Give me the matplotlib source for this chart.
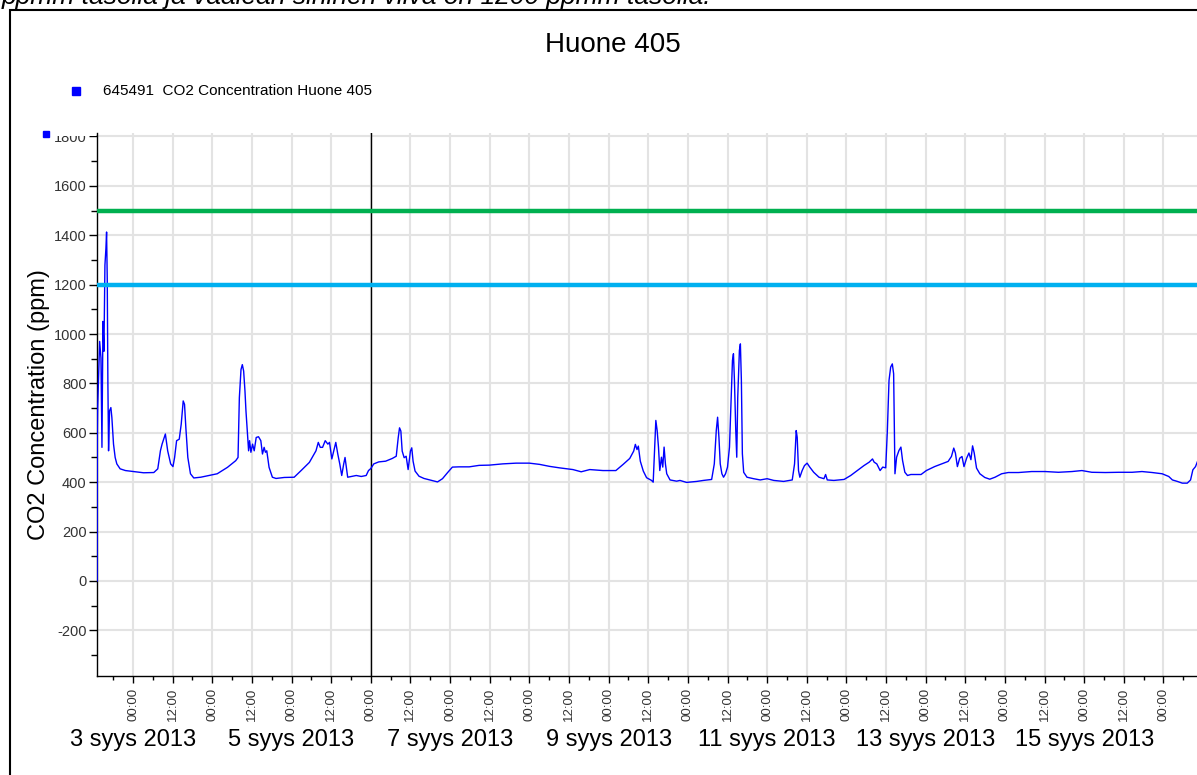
import numpy as np
import pandas as pd
import matplotlib
matplotlib.use("Agg")
import matplotlib.pyplot as plt
import matplotlib.dates as mdates
from matplotlib.lines import Line2D
from matplotlib.patches import Rectangle
from matplotlib.transforms import blended_transform_factory

plt.rcParams['font.family'] = ['Liberation Sans', 'DejaVu Sans']
plt.rcParams['axes.unicode_minus'] = False

# CO2 readings: hours from 3 Sep 2013 00:00 and ppm values
hours = [
    -10.85, -10.8, -10.7, -10.1, -9.7, -9.4, -9.1, -8.8, -8.5, -8.2, -8.0, -7.8,
    -7.6, -7.4, -7.1, -6.7, -6.4, -5.9, -5.4, -4.9, -3.9, -2.3, 0.2, 3.2, 6.3,
    7.5, 8.3, 8.8, 9.8, 10.5, 11.4, 12.1, 12.6, 13.2, 14.0, 14.6, 15.2, 15.6,
    16.0, 16.6, 17.4, 18.4, 20.5, 23.0, 25.5, 28.6, 31.1, 31.8, 32.2, 32.7,
    33.1, 33.5, 33.9, 34.2, 34.6, 35.0, 35.3, 35.7, 36.2, 36.7, 37.3, 38.0,
    38.7, 39.2, 39.7, 40.1, 40.5, 41.2, 42.2, 43.3, 45.8, 48.8, 50.9, 53.4,
    55.4, 56.1, 56.7, 57.4, 58.2, 59.0, 59.5, 60.2, 60.8, 61.4, 62.0, 62.6,
    63.2, 63.8, 64.2, 64.6, 65.0, 66.1, 67.6, 69.1, 70.6, 71.3,
    72.0, 72.9, 74.4, 76.5, 78.5, 79.7, 80.3, 80.7, 81.1, 81.5, 82.1, 82.7,
    83.3, 84.0, 84.4, 84.8, 85.4, 86.6, 88.1, 90.1, 92.2, 93.7, 95.2, 96.7,
    98.7, 101.8, 104.8, 107.9, 111.9, 116.0, 120.0, 123.1, 126.1, 129.1, 133.2,
    135.7, 138.3, 142.3, 146.2, 148.4, 150.4, 151.6, 152.1, 152.6, 153.0,
    153.6, 154.5, 155.5, 156.5,
    157.0, 157.5, 157.9, 158.3, 158.7, 159.1, 159.5, 160.0, 160.4, 160.8,
    161.2, 161.6, 162.6, 164.6, 165.6, 167.6, 170.7, 172.7, 175.2, 176.0,
    176.6, 177.0, 177.4, 177.8, 178.3, 178.8, 179.4, 180.0, 180.6, 181.1,
    181.5, 181.8, 182.1, 182.5, 182.8, 183.1, 183.6, 183.9, 184.2, 184.5,
    184.9, 185.9, 187.9, 189.9, 192.0, 194.0, 197.0, 199.6, 200.3, 200.8,
    201.1, 201.5, 201.9, 202.6, 203.3, 204.1, 204.9, 206.1, 207.7, 209.2,
    209.7, 210.2, 212.2, 215.3, 217.3, 219.3, 221.3, 222.9, 223.9, 224.4,
    225.2, 226.2, 227.0, 227.9, 228.4, 228.9, 229.4, 229.9, 230.3, 230.7,
    231.2, 231.9, 232.5, 233.0, 233.7, 234.5, 235.5, 238.6,
    240.2, 242.7, 244.8, 246.8, 247.8, 248.5, 249.0, 249.6, 250.3, 251.0,
    251.6, 252.4, 253.1, 253.7, 254.2, 254.7, 255.4, 256.4, 257.9, 259.4,
    261.0, 263.0, 265.0, 268.1, 272.1, 276.2, 280.2, 284.3, 287.3, 290.3,
    294.4, 298.5, 302.5, 305.5, 308.6, 311.6, 313.6, 314.7, 316.2, 317.7,
    319.2, 320.2, 320.9, 321.7, 322.5, 323.5,
]
co2_ppm = [
    0, 595, 702, 970, 903, 541, 1051, 930, 1279, 1346, 1413, 1225,
    796, 527, 689, 702, 662, 554, 500, 474, 454, 447, 443, 438, 439,
    454, 527, 554, 595, 527, 474, 463, 500, 568, 574, 635, 729, 715,
    621, 500, 434, 417, 420, 427, 434, 460, 487, 500, 742, 856,
    876, 850, 769, 689, 608, 527, 568, 521, 554, 527, 581, 584,
    568, 514, 541, 521, 527, 460, 420, 415, 419, 420, 447, 480,
    527, 561, 541, 541, 568, 554, 561, 494, 527, 561, 514, 474,
    427, 474, 500, 460, 420, 423, 427, 423, 427, 447,
    455, 474, 482, 485, 496, 505, 580, 620, 607, 526, 499, 505,
    451, 526, 539, 485, 445, 424, 415, 408, 401, 414, 438, 461,
    462, 462, 468, 469, 474, 477, 477, 472, 464, 458, 451,
    442, 451, 447, 447, 472, 496, 526, 553, 532, 546,
    485, 445, 418, 411,
    407, 400, 528, 650, 609, 542, 447, 501, 461, 542,
    474, 434, 409, 404, 407, 399, 403, 407, 411, 474,
    609, 663, 582, 474, 434, 420, 434, 461, 542, 744,
    893, 920, 812, 609, 501, 744, 933, 960, 812, 515,
    440, 420, 414, 409, 414, 407, 403, 409, 474, 609,
    582, 447, 420, 447, 467, 477, 461, 440, 420, 414,
    431, 409, 407, 411, 427, 447, 467, 481, 494, 481,
    474, 447, 461, 458, 609, 812, 866, 879, 839, 434,
    501, 528, 542, 488, 440, 427, 431, 431,
    447, 463, 474, 484, 504, 538, 518, 463, 497, 504,
    463, 497, 518, 491, 547, 518, 457, 434, 419, 412,
    420, 434, 439, 439, 443, 443, 440, 443, 447, 440,
    439, 440, 440, 443, 439, 434, 423, 409, 403, 396,
    396, 409, 450, 463, 491, 480,
]
limit_green = 1500
limit_blue = 1200
marker_day = '2013-09-06'
date_labels = ['3 syys 2013', '5 syys 2013', '7 syys 2013', '9 syys 2013',
               '11 syys 2013', '13 syys 2013', '15 syys 2013']
label_days = ['2013-09-03', '2013-09-05', '2013-09-07', '2013-09-09',
              '2013-09-11', '2013-09-13', '2013-09-15']

base = pd.Timestamp('2013-09-03')
times = base + pd.to_timedelta(hours, unit='h')

W, H = 1197, 775
fig = plt.figure(figsize=(W / 100, H / 100), dpi=100)

# document frame and cut-off caption text above it
fig.add_artist(Rectangle((10 / W, -0.1), 1.2, 1 - 10 / H + 0.1, transform=fig.transFigure,
                         fill=False, ec='black', lw=1.5))
fig.text(2 / W, 1 - 4 / H, 'ppmm tasolla ja vaalean sininen viiva on 1200 ppmm tasolla.',
         fontsize=19, style='italic', va='baseline', ha='left')

ax = fig.add_axes([97 / W, 1 - 676 / H, 1118 / W, (676 - 133) / H])

ax.plot(times, co2_ppm, color='#0000FF', lw=1.0, zorder=4)
ax.axhline(limit_green, color='#00B050', lw=3.2, zorder=5)
ax.axhline(limit_blue, color='#00B0F0', lw=3.2, zorder=5)
ax.axvline(pd.Timestamp(marker_day), color='black', lw=1.0, zorder=3)

ax.set_xlim(base + pd.Timedelta(hours=-10.9), base + pd.Timedelta(hours=327.6))
ax.set_ylim(-385, 1814)

ax.xaxis.set_major_locator(mdates.HourLocator(byhour=[0, 12]))
ax.xaxis.set_major_formatter(mdates.DateFormatter('%H:%M'))
ax.xaxis.set_minor_locator(mdates.HourLocator(byhour=[6, 18]))
ax.yaxis.set_major_locator(plt.MultipleLocator(200))
ax.yaxis.set_minor_locator(plt.MultipleLocator(100))

ax.grid(True, which='major', color='#E3E3E3', lw=1.5, zorder=0)
ax.set_axisbelow(True)
for s in ['top', 'right']:
    ax.spines[s].set_visible(False)
ax.spines['left'].set_linewidth(1.0)
ax.spines['bottom'].set_linewidth(1.0)

ax.tick_params(axis='x', which='major', length=5, width=1, pad=3.5,
               labelsize=9.5, labelcolor='#333333', labelrotation=90)
ax.tick_params(axis='x', which='minor', length=3, width=1)
ax.tick_params(axis='y', which='major', length=6, width=1, pad=1.5,
               labelsize=10.5, labelcolor='#333333')
ax.tick_params(axis='y', which='minor', length=4, width=1)

ax.set_ylabel('CO2 Concentration (ppm)', fontsize=17)
ax.yaxis.set_label_coords(-0.042, 0.5)

# day labels under the hour ticks
trans = blended_transform_factory(ax.transData, fig.transFigure)
for d, lab in zip(label_days, date_labels):
    ax.text(pd.Timestamp(d), 1 - 740 / H, lab, transform=trans, ha='center',
            va='center', fontsize=17, clip_on=False)

# title and legend
fig.text(613 / W, 1 - 45 / H, 'Huone 405', fontsize=20, ha='center', va='center')
fig.add_artist(Line2D([76 / W], [1 - 91 / H], marker='s', color='#0000FF', markersize=5.5,
                      ls='none', transform=fig.transFigure))
fig.text(103 / W, 1 - 91 / H, '645491  CO2 Concentration Huone 405', fontsize=11,
         ha='left', va='center')

# cover the top of the 1800 label and the legend marker on it
fig.add_artist(Rectangle((50 / W, 1 - 135.5 / H), 46 / W, 20 / H, transform=fig.transFigure,
                         fc='white', ec='none', zorder=10))
fig.add_artist(Line2D([46 / W], [1 - 134 / H], marker='s', color='#0000FF', markersize=5,
                      ls='none', transform=fig.transFigure, zorder=11))

fig.savefig('out.png', dpi=100)
